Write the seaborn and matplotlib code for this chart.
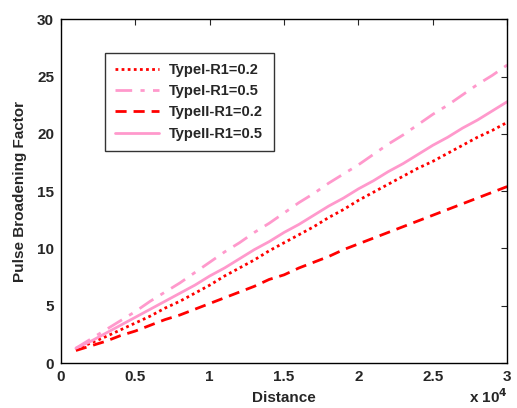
import numpy as np
import pandas as pd
import seaborn as sns
import matplotlib.pyplot as plt
from matplotlib.ticker import FuncFormatter

# distance (m)
distance = [1000 * i for i in range(1, 31)]

type1_r02 = [1.2, 1.75, 2.3, 2.9, 3.5, 4.1, 4.8, 5.4, 6.1, 6.8, 7.6, 8.3, 9.0, 9.8, 10.5,
             11.2, 11.9, 12.7, 13.4, 14.2, 14.9, 15.6, 16.3, 17.0, 17.6, 18.3, 19.0, 19.7, 20.3, 21.0]
type1_r05 = [1.3, 2.1, 2.9, 3.7, 4.5, 5.4, 6.2, 7.0, 7.9, 8.8, 9.7, 10.5, 11.4, 12.2, 13.1,
             14.0, 14.8, 15.7, 16.5, 17.3, 18.2, 19.1, 19.9, 20.8, 21.7, 22.5, 23.4, 24.3, 25.1, 26.0]
type2_r02 = [1.1, 1.5, 1.9, 2.4, 2.8, 3.3, 3.8, 4.2, 4.7, 5.2, 5.7, 6.2, 6.7, 7.3, 7.7,
             8.3, 8.8, 9.3, 9.9, 10.4, 10.9, 11.4, 11.9, 12.4, 12.9, 13.4, 13.9, 14.4, 14.9, 15.4]
type2_r05 = [1.3, 1.9, 2.6, 3.3, 4.0, 4.7, 5.4, 6.1, 6.8, 7.6, 8.3, 9.1, 9.9, 10.6, 11.4,
             12.1, 12.9, 13.7, 14.4, 15.2, 15.9, 16.7, 17.4, 18.2, 19.0, 19.7, 20.5, 21.2, 22.0, 22.8]

labels = ['TypeI-R1=0.2', 'TypeI-R1=0.5', 'TypeII-R1=0.2', 'TypeII-R1=0.5']

df = pd.DataFrame({
    'Distance': distance * 4,
    'PBF': type1_r02 + type1_r05 + type2_r02 + type2_r05,
    'Series': sum([[l] * len(distance) for l in labels], []),
})

sns.set_style('white')
plt.rcParams['font.family'] = ['Liberation Sans', 'DejaVu Sans']
plt.rcParams['font.weight'] = 'bold'

red = '#ff0000'
pink = '#ff99cc'
palette = {labels[0]: red, labels[1]: pink, labels[2]: red, labels[3]: pink}
dashes = {labels[0]: (1, 1.2), labels[1]: (6, 3, 1.5, 3), labels[2]: (4, 2.5), labels[3]: ''}

fig = plt.figure(figsize=(5.17, 4.08), dpi=100)
ax = fig.add_axes([0.118, 0.110, 0.863, 0.843])
sns.lineplot(data=df, x='Distance', y='PBF', hue='Series', style='Series',
             palette=palette, dashes=dashes, linewidth=2, ax=ax)

ax.set_xlim(0, 30000)
ax.set_ylim(0, 30)
ax.set_xticks(np.arange(0, 30001, 5000))
ax.set_yticks(np.arange(0, 31, 5))
ax.xaxis.set_major_formatter(FuncFormatter(lambda v, p: f'{v / 1e4:g}'))
ax.tick_params(direction='in', length=4, top=True, right=True, labelsize=11, width=0.8, pad=5)
for lab in ax.get_xticklabels() + ax.get_yticklabels():
    lab.set_fontweight('bold')
for s in ax.spines.values():
    s.set_linewidth(1.0)
    s.set_color('black')

ax.set_xlabel('Distance', fontsize=11, fontweight='bold', labelpad=5)
ax.set_ylabel('Pulse Broadening Factor', fontsize=11, fontweight='bold', labelpad=7)
fig.text(0.908, 0.004, r'x 10$^{\mathbf{4}}$', fontsize=11, fontweight='bold', ha='left', va='bottom')

leg = ax.legend(loc='upper left', bbox_to_anchor=(0.099, 0.903), frameon=True, fancybox=False,
                edgecolor='black', handlelength=3.0, borderpad=0.7, labelspacing=0.5,
                borderaxespad=0, handletextpad=0.7, prop={'weight': 'bold', 'size': 10.5})
leg.get_frame().set_linewidth(1.0)

fig.savefig('out.png', dpi=100)
